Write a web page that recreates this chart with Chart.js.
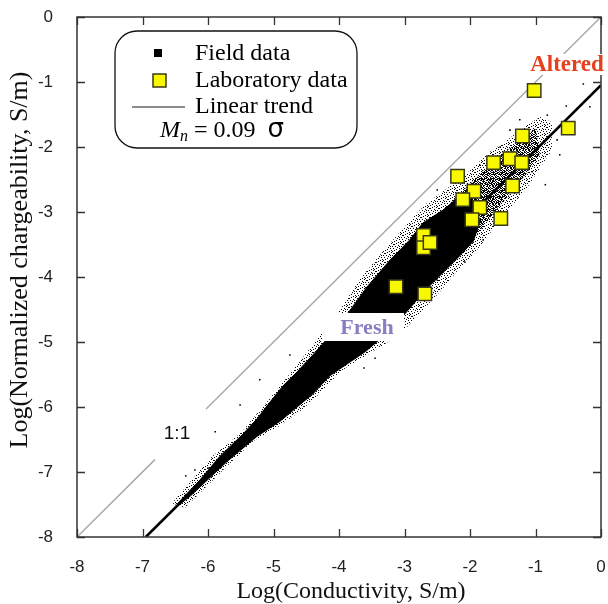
<!DOCTYPE html>
<html>
<head>
<meta charset="utf-8">
<script src="https://cdn.jsdelivr.net/npm/chart.js@4.4.1/dist/chart.umd.min.js"></script>
<style>
  html, body { margin: 0; padding: 0; background: #fff; }
  canvas { display: block; }
</style>
</head>
<body>
<canvas id="chart" width="608" height="604"></canvas>
<script>
// ─── data (log10 values, S/m) ───

const xTicks = [-8, -7, -6, -5, -4, -3, -2, -1, 0];
const yTicks = [-8, -7, -6, -5, -4, -3, -2, -1, 0];

// laboratory samples
const labX = [-1.02, -0.50, -1.20, -1.64, -1.39, -1.21, -2.19, -1.35, -1.94, -2.11, -1.85, -1.97, -1.53, -2.71, -2.71, -2.61, -2.69, -3.13];
const labY = [-1.13, -1.71, -1.83, -2.24, -2.18, -2.24, -2.45, -2.60, -2.68, -2.81, -2.93, -3.12, -3.10, -3.36, -3.55, -3.47, -4.26, -4.15];

// field data: outline of the dense core of the cloud
const coreX = [-6.46, -6.12, -5.82, -5.47, -5.25, -5.05, -4.85, -4.64, -4.40, -4.18, -3.83, -3.57, -3.22, -2.92, -2.72, -2.41, -2.15, -2.00,
               -1.85, -1.95, -2.20, -2.66, -2.92, -3.15, -3.40, -3.60, -3.85, -4.14, -4.40, -4.64, -4.90, -5.25, -5.71, -6.27, -6.46, -6.46];
const coreY = [-7.48, -7.12, -6.76, -6.42, -6.18, -5.92, -5.67, -5.46, -5.20, -4.95, -4.51, -4.15, -3.74, -3.43, -3.17, -2.97, -2.75, -2.69,
               -3.15, -3.45, -3.72, -4.18, -4.48, -4.75, -4.98, -5.15, -5.32, -5.52, -5.80, -6.00, -6.22, -6.45, -6.84, -7.37, -7.52, -7.48];

// field data: thinner but still dense band along the trend at high conductivity
const bandX = [-2.41, -2.15, -1.89, -1.65, -1.44, -1.20, -1.00, -0.93, -1.13, -1.39, -1.69, -1.95, -2.20, -2.41];
const bandY = [-2.97, -2.72, -2.46, -2.22, -2.06, -1.86, -1.72, -2.10, -2.40, -2.72, -3.08, -3.42, -3.70, -2.97];

// field data: outline of the sparser fringe around the core
const fringeX = [-6.55, -5.94, -5.50, -5.05, -4.68, -4.35, -3.95, -3.68, -3.34, -3.02, -2.69, -2.35, -2.00, -1.69, -1.44, -1.16, -0.93, -0.75,
                 -0.75, -0.93, -1.13, -1.39, -1.66, -1.92, -2.18, -2.46, -2.76, -3.07, -3.33, -3.60, -3.90, -4.14, -4.40, -4.64, -4.95, -5.30, -5.70, -6.35, -6.55];
const fringeY = [-7.48, -6.76, -6.40, -5.86, -5.40, -4.98, -4.45, -4.03, -3.62, -3.25, -2.89, -2.64, -2.36, -2.07, -1.90, -1.68, -1.54, -1.62,
                 -2.05, -2.32, -2.63, -2.94, -3.28, -3.62, -3.89, -4.23, -4.55, -4.89, -5.05, -5.22, -5.40, -5.62, -5.90, -6.10, -6.32, -6.52, -6.90, -7.55, -7.48];

// field data: isolated measurements outside the cloud
const fieldX = [-0.27, -0.53, -0.17, -0.82, -0.67, -0.63, -1.39, -1.24, -1.05, -0.85, -2.27, -2.50, -1.85, -1.54, -1.59, -1.47,
                -1.80, -2.08, -2.56, -2.50, -2.89, -3.15, -4.75, -5.21, -5.51, -5.89, -6.20, -6.34, -6.00, -3.45, -3.62];
const fieldY = [-1.03, -1.37, -1.38, -1.51, -1.89, -2.12, -1.74, -1.58, -2.38, -2.58, -2.86, -2.66, -2.28, -2.00, -2.92, -3.12,
                -3.43, -3.77, -3.85, -4.05, -4.35, -4.63, -5.20, -5.58, -5.97, -6.38, -6.97, -7.06, -6.94, -5.25, -5.40];

// linear trend, Mn = 0.09 sigma
const trendX = [-6.95, 0];
const trendY = [-8.00, -1.05];

// 1:1 line, broken where its label sits
const unitX = [-8, -6.81, null, -6.03, 0];
const unitY = [-8, -6.81, null, -6.03, 0];

const pts = (xs, ys) => xs.map((x, i) => ({ x: x, y: ys[i] }));

// dotted fills for the sparser parts of the cloud
function speckle(size, dots) {
    const c = document.createElement('canvas');
    c.width = size; c.height = size;
    const g = c.getContext('2d');
    g.fillStyle = '#000';
    dots.forEach(p => g.fillRect(p[0], p[1], 1, 1));
    return g.createPattern(c, 'repeat');
}
const sparseDots = [[0, 0], [4, 0], [7, 1], [2, 2], [5, 3], [8, 3], [1, 4], [3, 5], [6, 5], [0, 6], [4, 7], [7, 7], [2, 8], [5, 8], [6, 1], [3, 3]];
const denseDots = [[0, 0], [1, 0], [3, 0], [4, 1], [2, 1], [0, 2], [3, 2], [5, 2], [1, 3], [2, 4], [4, 3], [5, 4], [0, 4], [3, 5], [1, 5], [4, 5]];

const SERIF = '"Liberation Serif", "Times New Roman", serif';
const SANS = '"Liberation Sans", Arial, sans-serif';

// keep the plot box fixed: no extra room for the end tick labels
function fixBox(s) {
    s.paddingLeft = s.paddingRight = s.paddingTop = s.paddingBottom = 0;
}

// inward ticks on all four sides plus the frame
const frameTicks = {
    id: 'frameTicks',
    afterDatasetsDraw(chart) {
        const { ctx, chartArea: a, scales: { x, y } } = chart;
        ctx.save();
        ctx.strokeStyle = '#333';
        ctx.lineWidth = 1.3;
        ctx.beginPath();
        xTicks.forEach(v => {
            const px = Math.round(x.getPixelForValue(v)) + 0.5;
            ctx.moveTo(px, a.bottom); ctx.lineTo(px, a.bottom - 8);
            ctx.moveTo(px, a.top); ctx.lineTo(px, a.top + 8);
        });
        yTicks.forEach(v => {
            const py = Math.round(y.getPixelForValue(v)) + 0.5;
            ctx.moveTo(a.left, py); ctx.lineTo(a.left + 8, py);
            ctx.moveTo(a.right, py); ctx.lineTo(a.right - 8, py);
        });
        ctx.stroke();
        ctx.lineWidth = 1.5;
        ctx.strokeRect(a.left, a.top, a.right - a.left, a.bottom - a.top);
        ctx.restore();
    }
};

// axis titles, text annotations and the framed legend
const annotations = {
    id: 'annotations',
    afterDraw(chart) {
        const { ctx } = chart;
        ctx.save();
        ctx.textAlign = 'center';
        ctx.textBaseline = 'middle';

        // axis titles
        ctx.fillStyle = '#111';
        ctx.font = '24px ' + SERIF;
        ctx.fillText('Log(Conductivity, S/m)', 351, 592);
        ctx.save();
        ctx.translate(20, 260);
        ctx.rotate(-Math.PI / 2);
        ctx.font = '26px ' + SERIF;
        ctx.fillText('Log(Normalized chargeability, S/m)', 0, 0);
        ctx.restore();

        // Fresh, on a white box cut through the cloud
        ctx.fillStyle = '#fff';
        ctx.fillRect(322, 313, 82, 28);
        ctx.font = 'bold 22px ' + SERIF;
        ctx.fillStyle = '#8a7dc2';
        ctx.fillText('Fresh', 367, 328);

        // Altered
        ctx.font = 'bold 23px ' + SERIF;
        const w = ctx.measureText('Altered').width;
        ctx.fillStyle = '#fff';
        ctx.fillRect(567 - w / 2, 54, w, 21);
        ctx.fillStyle = '#e4401e';
        ctx.fillText('Altered', 567, 65);

        // 1:1
        ctx.font = '19px ' + SANS;
        ctx.fillStyle = '#111';
        ctx.fillText('1:1', 177, 434);

        // legend box
        ctx.strokeStyle = '#111';
        ctx.lineWidth = 1.3;
        ctx.beginPath();
        ctx.roundRect(115, 31, 242, 117, 22);
        ctx.stroke();

        ctx.textAlign = 'left';
        ctx.font = '24px ' + SERIF;
        ctx.fillStyle = '#000';
        ctx.fillRect(154, 49, 8, 8);
        ctx.fillText('Field data', 195, 54);

        ctx.fillStyle = '#f8f800';
        ctx.fillRect(153, 74, 13, 13);
        ctx.strokeStyle = '#3a3a1a';
        ctx.lineWidth = 1.5;
        ctx.strokeRect(153, 74, 13, 13);
        ctx.fillStyle = '#000';
        ctx.fillText('Laboratory data', 195, 81);

        ctx.strokeStyle = '#666';
        ctx.lineWidth = 1.5;
        ctx.beginPath();
        ctx.moveTo(132, 107); ctx.lineTo(185, 107);
        ctx.stroke();
        ctx.fillText('Linear trend', 195, 107);

        // M_n = 0.09 sigma
        ctx.font = 'italic 24px ' + SERIF;
        ctx.fillText('M', 160, 131);
        let cx = 160 + ctx.measureText('M').width;
        ctx.font = 'italic 16px ' + SERIF;
        ctx.fillText('n', cx, 137);
        cx += ctx.measureText('n').width;
        ctx.font = '24px ' + SERIF;
        ctx.fillText(' = 0.09 ', cx, 131);
        cx += ctx.measureText(' = 0.09  ').width;
        ctx.font = '26px "DejaVu Sans", sans-serif';
        ctx.fillText('σ', cx, 130);

        ctx.restore();
    }
};

new Chart(document.getElementById('chart'), {
    type: 'scatter',
    data: {
        datasets: [
            {
                label: 'Laboratory data',
                data: pts(labX, labY),
                pointStyle: 'rect',
                pointRadius: 9.5,
                backgroundColor: '#f8f800',
                borderColor: '#3a3a1a',
                borderWidth: 1.5
            },
            {
                type: 'line',
                label: 'Linear trend',
                data: pts(trendX, trendY),
                borderColor: '#000',
                borderWidth: 2.6,
                pointRadius: 0,
                fill: false
            },
            {
                label: 'Field data',
                data: pts(fieldX, fieldY),
                pointStyle: 'rect',
                pointRadius: 1.1,
                backgroundColor: '#000',
                borderWidth: 0
            },
            {
                type: 'line',
                label: 'Field data core',
                data: pts(coreX, coreY),
                borderColor: '#000',
                borderWidth: 1,
                backgroundColor: '#000',
                pointRadius: 0,
                tension: 0,
                fill: 'shape'
            },
            {
                type: 'line',
                label: 'Field data band',
                data: pts(bandX, bandY),
                borderWidth: 0,
                backgroundColor: speckle(6, denseDots),
                pointRadius: 0,
                tension: 0,
                fill: 'shape'
            },
            {
                type: 'line',
                label: 'Field data fringe',
                data: pts(fringeX, fringeY),
                borderWidth: 0,
                backgroundColor: speckle(9, sparseDots),
                pointRadius: 0,
                tension: 0,
                fill: 'shape'
            },
            {
                type: 'line',
                label: '1:1',
                data: pts(unitX, unitY),
                borderColor: '#aaaaaa',
                borderWidth: 1.5,
                pointRadius: 0,
                spanGaps: false,
                fill: false
            }
        ]
    },
    options: {
        responsive: false,
        animation: false,
        layout: { autoPadding: false, padding: { top: 17, right: 7, left: 0, bottom: 0 } },
        plugins: {
            legend: { display: false },
            tooltip: { enabled: false }
        },
        scales: {
            x: {
                type: 'linear',
                min: -8,
                max: 0,
                afterFit: s => { s.height = 67; fixBox(s); },
                afterBuildTicks: s => { s.ticks = xTicks.map(v => ({ value: v })); },
                grid: { display: false, drawTicks: false },
                border: { display: false },
                ticks: { padding: 20, color: '#222', font: { family: SANS, size: 17 } }
            },
            y: {
                type: 'linear',
                min: -8,
                max: 0,
                afterFit: s => { s.width = 77; fixBox(s); },
                afterBuildTicks: s => { s.ticks = yTicks.map(v => ({ value: v })); },
                grid: { display: false, drawTicks: false },
                border: { display: false },
                ticks: { padding: 24, color: '#222', font: { family: SANS, size: 17 } }
            }
        }
    },
    plugins: [frameTicks, annotations]
});
</script>
</body>
</html>
